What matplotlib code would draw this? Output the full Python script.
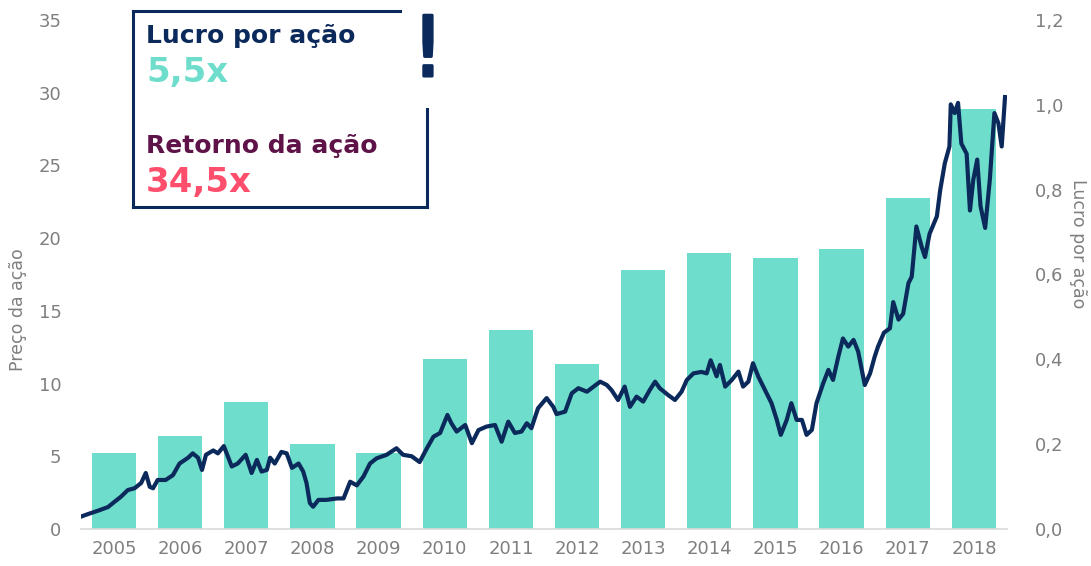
import matplotlib
matplotlib.use("Agg")
from matplotlib import pyplot as plt
from matplotlib.lines import Line2D
import matplotlib.patheffects as pe
import numpy as np

# lucro por ação (eixo direito)
years = [2005, 2006, 2007, 2008, 2009, 2010, 2011, 2012, 2013, 2014, 2015, 2016, 2017, 2018]
eps = [0.18, 0.22, 0.30, 0.20, 0.18, 0.40, 0.47, 0.39, 0.61, 0.65, 0.64, 0.66, 0.78, 0.99]

# preço da ação (eixo esquerdo)
price_dates = [
    2005.00, 2005.11, 2005.26, 2005.41, 2005.51, 2005.60, 2005.71, 2005.81, 2005.91, 2005.98,
    2006.04, 2006.09, 2006.16, 2006.28, 2006.39, 2006.49, 2006.62, 2006.69, 2006.77, 2006.83,
    2006.89, 2007.00, 2007.07, 2007.16, 2007.22, 2007.28, 2007.37, 2007.49, 2007.58, 2007.66,
    2007.73, 2007.81, 2007.86, 2007.93, 2008.03, 2008.11, 2008.19, 2008.29, 2008.36, 2008.41,
    2008.46, 2008.51, 2008.59, 2008.71, 2008.87, 2008.97, 2009.07, 2009.17, 2009.27, 2009.37,
    2009.47, 2009.62, 2009.77, 2009.87, 2010.00, 2010.12, 2010.23, 2010.33, 2010.43, 2010.54,
    2010.60, 2010.68, 2010.81, 2010.91, 2011.01, 2011.13, 2011.26, 2011.36, 2011.46, 2011.56,
    2011.66, 2011.74, 2011.81, 2011.91, 2012.04, 2012.14, 2012.19, 2012.32, 2012.42, 2012.52,
    2012.65, 2012.75, 2012.85, 2012.95, 2013.02, 2013.12, 2013.22, 2013.30, 2013.40, 2013.50,
    2013.60, 2013.68, 2013.75, 2013.88, 2013.98, 2014.08, 2014.16, 2014.26, 2014.38, 2014.46,
    2014.52, 2014.61, 2014.66, 2014.74, 2014.84, 2014.94, 2015.01, 2015.09, 2015.16, 2015.24,
    2015.34, 2015.44, 2015.52, 2015.58, 2015.67, 2015.74, 2015.82, 2015.90, 2015.97, 2016.05,
    2016.12, 2016.22, 2016.30, 2016.37, 2016.45, 2016.52, 2016.60, 2016.68, 2016.75, 2016.85,
    2016.93, 2017.00, 2017.05, 2017.14, 2017.23, 2017.28, 2017.36, 2017.43, 2017.51, 2017.56,
    2017.63, 2017.71, 2017.76, 2017.83, 2017.94, 2017.99, 2018.06, 2018.13, 2018.15, 2018.21,
    2018.26, 2018.31, 2018.39, 2018.44, 2018.49, 2018.55, 2018.60, 2018.67, 2018.74, 2018.81,
    2018.87, 2018.92, 2018.97,
]
price = [
    0.85, 1.03, 1.26, 1.51, 1.88, 2.20, 2.68, 2.80, 3.16, 3.85,
    2.90, 2.80, 3.37, 3.37, 3.70, 4.50, 4.90, 5.20, 4.90, 4.06,
    5.10, 5.40, 5.20, 5.70, 5.00, 4.30, 4.50, 5.10, 3.85, 4.75,
    3.95, 4.06, 4.90, 4.50, 5.30, 5.20, 4.20, 4.50, 3.95, 3.16,
    1.79, 1.53, 2.00, 2.00, 2.10, 2.10, 3.25, 3.00, 3.60, 4.50,
    4.86, 5.10, 5.55, 5.10, 5.00, 4.60, 5.55, 6.35, 6.60, 7.84,
    7.27, 6.70, 7.15, 5.90, 6.80, 7.04, 7.15, 6.00, 7.38, 6.60,
    6.70, 7.27, 6.93, 8.30, 9.00, 8.40, 7.90, 8.07, 9.33, 9.68,
    9.44, 9.79, 10.13, 9.90, 9.56, 8.87, 9.79, 8.40, 9.10, 8.76,
    9.56, 10.13, 9.68, 9.20, 8.87, 9.44, 10.25, 10.70, 10.80, 10.70,
    11.60, 10.50, 11.28, 9.79, 10.25, 10.82, 9.79, 10.13, 11.40, 10.48,
    9.56, 8.65, 7.50, 6.47, 7.50, 8.65, 7.50, 7.50, 6.47, 6.81,
    8.65, 10.00, 10.94, 10.25, 11.85, 13.10, 12.54, 13.00, 12.20, 9.90,
    10.70, 11.85, 12.54, 13.50, 13.80, 15.60, 14.40, 14.80, 16.90, 17.35,
    20.80, 19.40, 18.70, 20.30, 21.50, 23.30, 25.15, 26.30, 29.20, 28.60,
    29.30, 26.50, 25.80, 21.90, 24.00, 25.40, 22.20, 20.70, 24.00, 28.60,
    27.90, 26.30, 29.70,
]

left_ticks = [0, 5, 10, 15, 20, 25, 30, 35]
right_ticks = [0.0, 0.2, 0.4, 0.6, 0.8, 1.0, 1.2]

TEAL = "#6EDDCB"
NAVY = "#0B2A5B"
GREY = "#7F7F7F"
PURPLE = "#5E1248"
PINK = "#FF4F6D"

plt.rcParams["font.family"] = ["DejaVu Sans"]

fig = plt.figure(figsize=(10.91, 5.66), dpi=100)
ax = fig.add_axes([0.0742, 0.0654, 0.8488, 0.8993])
ax2 = ax.twinx()

# barras no eixo direito, linha no esquerdo por cima
x = np.arange(len(years))
ax2.bar(x, eps, width=0.67, color=TEAL, zorder=1)
ax2.set_ylim(0, 1.2)
ax.set_zorder(ax2.get_zorder() + 1)
ax.patch.set_visible(False)

t = np.array(price_dates) - years[0] - 0.5
ax.plot(t, price, color=NAVY, lw=3.0, solid_joinstyle="round", zorder=3)
ax.set_ylim(0, 35)
ax.set_xlim(-0.5, len(years) - 0.5)

ax.set_xticks(x)
ax.set_xticklabels([str(y) for y in years])
ax.set_yticks(left_ticks)
ax.set_yticklabels([str(v) for v in left_ticks])
ax2.set_yticks(right_ticks)
ax2.set_yticklabels([f"{v:.1f}".replace(".", ",") for v in right_ticks])

for a in (ax, ax2):
    for s in a.spines.values():
        s.set_visible(False)
    a.tick_params(length=0, colors=GREY, labelsize=13)
ax.spines["bottom"].set_visible(True)
ax.spines["bottom"].set_color("#D9D9D9")
ax.spines["bottom"].set_linewidth(1.2)
ax.tick_params(axis="x", pad=8)
ax.tick_params(axis="y", pad=14)
ax2.tick_params(axis="y", pad=20)

ax.set_ylabel("Preço da ação", color=GREY, fontsize=12.5)
ax2.set_ylabel("Lucro por ação", color=GREY, fontsize=12.5, rotation=-90)
ax2.yaxis.set_label_coords(1.086, 0.56)
ax.yaxis.set_label_coords(-0.058, 0.43)

# caixa de destaque
W, H = 1091.0, 566.0
def fx(px):
    return px / W
def fy(py):
    return 1 - py / H

box_kw = dict(color=NAVY, lw=2.2, transform=fig.transFigure, solid_capstyle="projecting")
fig.add_artist(Line2D([fx(133), fx(133)], [fy(11), fy(207)], **box_kw))
fig.add_artist(Line2D([fx(133), fx(400)], [fy(11), fy(11)], **box_kw))
fig.add_artist(Line2D([fx(133), fx(427)], [fy(207), fy(207)], **box_kw))
fig.add_artist(Line2D([fx(427), fx(427)], [fy(109), fy(207)], **box_kw))
fig.text(fx(428), fy(76), "!", color=NAVY, fontsize=60, fontweight="normal",
         ha="center", va="baseline",
         path_effects=[pe.withStroke(linewidth=2.2, foreground=NAVY)])

fig.text(fx(146), fy(43), "Lucro por ação", color=NAVY, fontsize=18, fontweight="bold",
         va="baseline")
fig.text(fx(146), fy(82), "5,5x", color=TEAL, fontsize=24.5, fontweight="bold",
         va="baseline")
fig.text(fx(146), fy(153), "Retorno da ação", color=PURPLE, fontsize=18, fontweight="bold",
         va="baseline")
fig.text(fx(146), fy(192), "34,5x", color=PINK, fontsize=24.5, fontweight="bold",
         va="baseline")

fig.savefig("out.png", dpi=100)
